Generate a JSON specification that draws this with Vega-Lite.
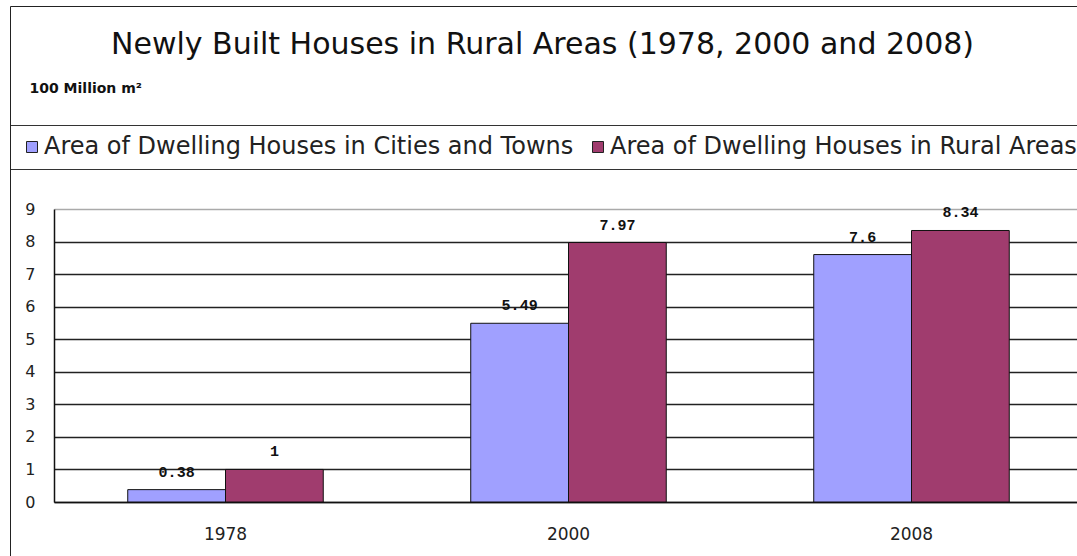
{
  "$schema": "https://vega.github.io/schema/vega-lite/v6.json",
  "autosize": "none",
  "width": 1029,
  "height": 293,
  "padding": {"left": 54, "top": 209, "right": 0, "bottom": 54},
  "background": "white",
  "title": {
    "text": "Newly Built Houses in Rural Areas  (1978, 2000 and 2008)",
    "font": "DejaVu Sans",
    "fontSize": 30,
    "fontWeight": "normal",
    "color": "#111",
    "anchor": "middle",
    "dx": -26,
    "offset": -54
  },
  "data": {
    "values": [
      {"year": "1978", "series": "Area of Dwelling Houses in Cities and Towns", "value": 0.38},
      {"year": "1978", "series": "Area of Dwelling Houses in Rural Areas", "value": 1},
      {"year": "2000", "series": "Area of Dwelling Houses in Cities and Towns", "value": 5.49},
      {"year": "2000", "series": "Area of Dwelling Houses in Rural Areas", "value": 7.97},
      {"year": "2008", "series": "Area of Dwelling Houses in Cities and Towns", "value": 7.6},
      {"year": "2008", "series": "Area of Dwelling Houses in Rural Areas", "value": 8.34}
    ]
  },
  "encoding": {
    "x": {
      "field": "year", "type": "nominal",
      "scale": {"paddingInner": 0.43, "paddingOuter": 0.215},
      "axis": {
        "title": null, "labelAngle": 0, "labelFont": "DejaVu Sans", "labelFontSize": 17,
        "labelColor": "#222", "labelPadding": 24, "domainColor": "#111", "domainWidth": 1.5,
        "ticks": false
      }
    },
    "xOffset": {"field": "series", "type": "nominal"},
    "y": {
      "field": "value", "type": "quantitative",
      "scale": {"domain": [0, 9], "nice": false},
      "axis": {
        "title": "100 Million m²", "titleAngle": 0, "titleAlign": "left", "titleBaseline": "middle",
        "titleX": -25, "titleY": -121, "titleFont": "DejaVu Sans", "titleFontSize": 14,
        "titleFontWeight": "bold", "titleColor": "#111",
        "values": [0, 1, 2, 3, 4, 5, 6, 7, 8, 9],
        "labelFont": "DejaVu Sans", "labelFontSize": 16, "labelColor": "#222",
        "labelPadding": 19, "ticks": false, "domainColor": "#111", "domainWidth": 1.5,
        "grid": true,
        "gridColor": {"condition": {"test": "datum.value == 9", "value": "#aaaaaa"}, "value": "#222222"},
        "gridWidth": 1.5
      }
    }
  },
  "layer": [
    {
      "mark": {"type": "bar", "stroke": "#111", "strokeWidth": 1},
      "encoding": {
        "color": {
          "field": "series", "type": "nominal",
          "scale": {
            "domain": ["Area of Dwelling Houses in Cities and Towns", "Area of Dwelling Houses in Rural Areas"],
            "range": ["#a0a0ff", "#a03c6e"]
          },
          "legend": {
            "title": null, "orient": "none", "legendX": -44, "legendY": -84,
            "direction": "horizontal", "columns": 2, "columnPadding": 12,
            "symbolType": "square", "symbolSize": 121, "symbolStrokeColor": "#222", "symbolStrokeWidth": 1,
            "labelFont": "DejaVu Sans", "labelFontSize": 24, "labelColor": "#222", "labelOffset": 0,
            "labelLimit": 1000,
            "strokeColor": "#333", "padding": 10, "fillColor": "white"
          }
        },
        "opacity": {
          "field": "year", "type": "ordinal",
          "scale": {"range": [1, 1]},
          "legend": {
            "title": null, "orient": "none", "legendX": -44, "legendY": -203,
            "direction": "horizontal", "symbolOpacity": 0, "symbolSize": 0,
            "labelOpacity": 0, "labelFontSize": 1, "labelExpr": "''",
            "strokeColor": "#222", "padding": 560
          }
        }
      }
    },
    {
      "mark": {"type": "text", "baseline": "bottom", "dy": -10, "font": "Liberation Mono", "fontWeight": "bold", "fontSize": 15, "color": "#111"},
      "encoding": {
        "text": {"field": "value", "type": "quantitative"},
        "xOffset": {"field": "series", "type": "nominal"}
      }
    }
  ],
  "config": {"view": {"stroke": null}}
}
